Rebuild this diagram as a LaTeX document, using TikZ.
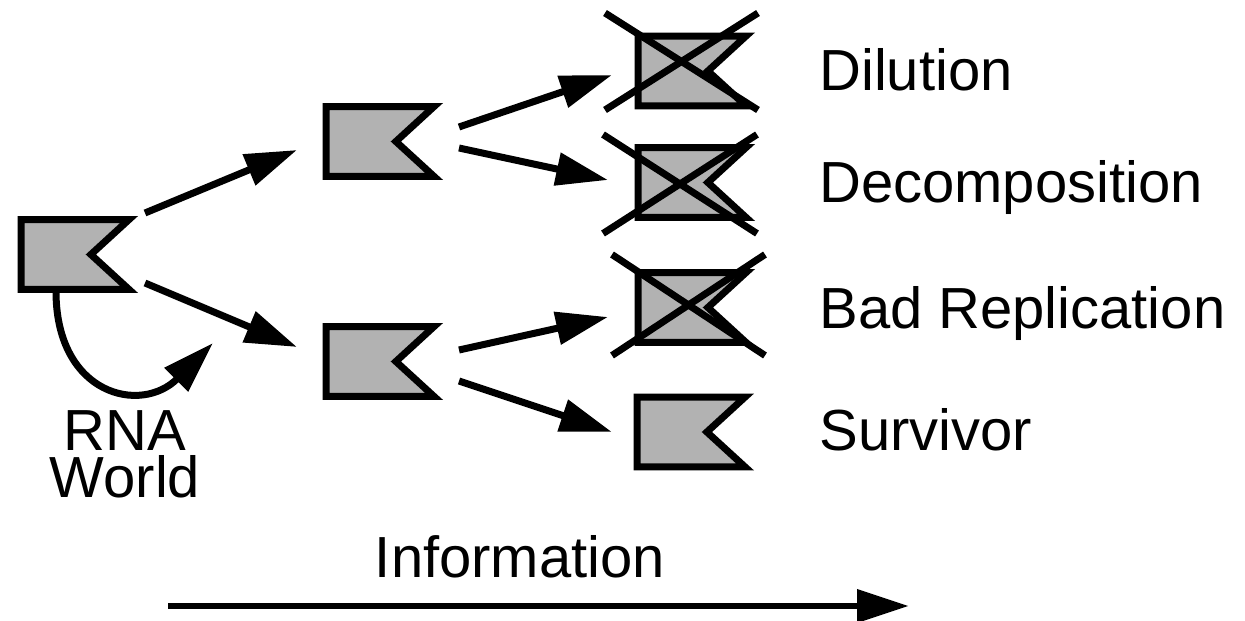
\documentclass[tikz,border=0pt]{standalone}
\usepackage{fontspec}
\setmainfont{Liberation Sans}
\usetikzlibrary{shapes.symbols,arrows.meta}

\definecolor{flaggray}{gray}{0.7}
\tikzstyle{flag}=[draw,line width=0.14cm,fill=flaggray,signal,signal to=nowhere,signal from=east,
    signal pointer angle=85,minimum width=2.16cm,minimum height=1.4cm,inner sep=0pt]
\tikzstyle{edge}=[draw,line width=0.14cm,-{Triangle[length=1.04cm,width=0.64cm]}]
\tikzstyle{cross}=[draw,line width=0.14cm]
\tikzstyle{tag}=[font=\fontsize{33}{27}\selectfont,inner sep=0pt]
\newcommand{\rnaunit}{0.02cm}

\begin{document}
\begin{tikzpicture}[x=\rnaunit, y=-\rnaunit]
    \useasboundingbox (0,0) rectangle (1245,621);
    % First we draw the flags
    \foreach \pos/\name in {{(56,254.5)/f1}, {(361,141.5)/f2}, {(361,361.5)/f3},
        {(673,71)/dil}, {(673,182.5)/dec}, {(673,307.5)/bad}, {(672,432)/surv}}
        \node[flag] (\name) at \pos {};
    % Connect flags with arrows
    \foreach \source/\sx/\sy/\dest/\dx/\dy in {f1/89/-41.5/f2/-64/8.5, f1/89/28.5/f3/-64/-14.5,
        f2/98/-14.5/dil/-61/4, f2/98/6.5/dec/-65/-2.5,
        f3/98/-11.5/bad/-65/9.5, f3/98/19.5/surv/-60/0}
        \path[edge] ([shift={(\sx,\sy)}]\source.center) -- ([shift={(\dx,\dy)}]\dest.center);
    % Cross out the lost ones
    \foreach \name/\l/\t/\r/\b in {dil/-68/-58/85/39, dec/-70/-48/84/51, bad/-61/-53/92/48} {
        \path[cross] ([shift={(\l,\t)}]\name.center) -- ([shift={(\r,\b)}]\name.center);
        \path[cross] ([shift={(\l,\b)}]\name.center) -- ([shift={(\r,\t)}]\name.center);
    }
    % Labels
    \foreach \pos/\name/\text in {{(819,91)/tdil/Dilution}, {(819,203)/tdec/Decomposition},
        {(819,329)/tbad/Bad Replication}, {(819,451)/tsurv/Survivor}}
        \node[tag, anchor=base west] (\name) at \pos {\text};

    \coordinate (rnatip) at (213,343);
    \path[edge] (f1.south) .. controls (57,395) and (141,415) .. (rnatip);
    \node[tag, align=center, anchor=base] (rna) at (125,498) {RNA\\World};

    \node[tag, anchor=base] (info) at (520,578) {Information};
    \coordinate (infostart) at (168,606);
    \coordinate (infoend) at (909,606);
    \path[edge] (infostart) -- (infoend);
\end{tikzpicture}
\end{document}
